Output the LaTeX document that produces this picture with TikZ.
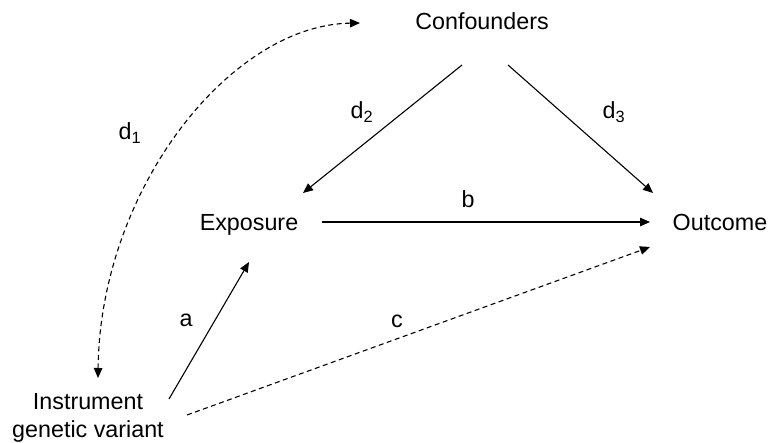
\documentclass[tikz,border=0pt]{standalone}
\usepackage{fontspec}
\setmainfont{Liberation Sans}
\usetikzlibrary{arrows.meta}
\begin{document}
\begin{tikzpicture}[x=1pt,y=-1pt,
  lbl/.style={font=\fontsize{23.3}{27.6}\selectfont, inner sep=0pt},
  arr/.style={line width=1.1pt,-{Triangle[length=10pt,width=8.5pt]}},
  darr/.style={arr,dash pattern=on 5pt off 3.5pt},
  biarr/.style={line width=1.1pt,dash pattern=on 5pt off 3.5pt,{Triangle[length=10pt,width=8.5pt]}-{Triangle[length=10pt,width=8.5pt]}}]
\useasboundingbox (0,0) rectangle (770,443);
\node[lbl,anchor=base] (conf) at (482,30) {Confounders};
\node[lbl,anchor=base] (exp) at (249,231) {Exposure};
\node[lbl,anchor=base] (out) at (720,231) {Outcome};
\node[lbl,align=center] (inst) at (88,418) {Instrument\\genetic variant};
\node[lbl] (ld1) at (130,133) {d\textsubscript{1}};
\node[lbl] (ld2) at (362,112) {d\textsubscript{2}};
\node[lbl] (ld3) at (614,112) {d\textsubscript{3}};
\node[lbl] (lb) at (468,199) {b};
\node[lbl] (la) at (186,320) {a};
\node[lbl] (lc) at (397,321) {c};
\draw[arr] ([shift={(-20,35)}]conf.base) -- ([shift={(54,-38)}]exp.base);
\draw[arr] ([shift={(26,35)}]conf.base) -- ([shift={(-67,-38)}]out.base);
\draw[arr] ([shift={(73,-9)}]exp.base) -- ([shift={(-70,-9)}]out.base);
\draw[arr] ([shift={(81,-19)}]inst.center) -- ([shift={(0,31)}]exp.base);
\draw[darr] ([shift={(99,-3)}]inst.center) -- ([shift={(-70,16)}]out.base);
\draw[biarr] ([shift={(10,-40)}]inst.center) .. controls (100,190) and (230,25) .. ([shift={(-122,-7)}]conf.base);
\end{tikzpicture}
\end{document}
